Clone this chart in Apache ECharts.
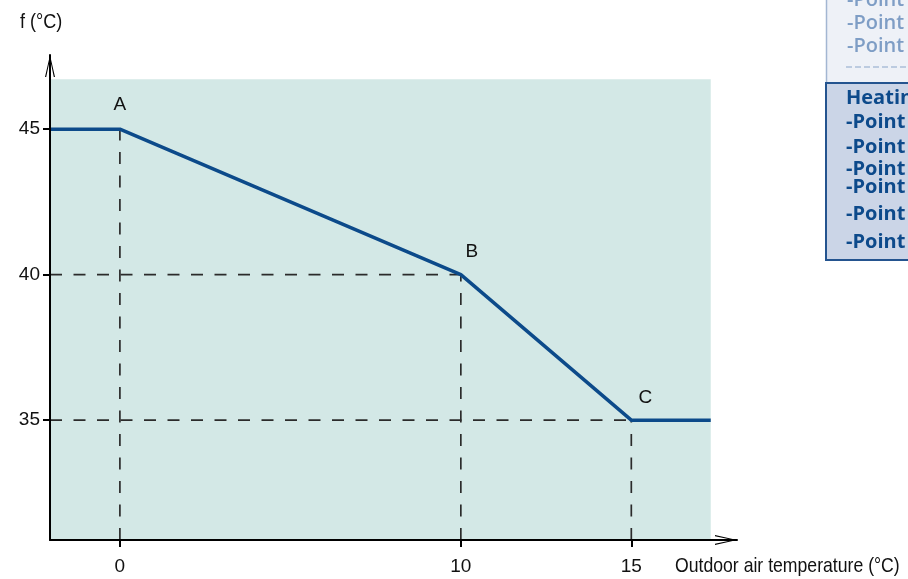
<!DOCTYPE html>
<html>
<head>
<meta charset="utf-8">
<title>Heating curve</title>
<script src="https://cdn.jsdelivr.net/npm/echarts@6/dist/echarts.min.js"></script>
<style>
  html, body { margin: 0; padding: 0; background: #ffffff; }
  #chart { width: 908px; height: 579px; }
</style>
</head>
<body>
<div id="chart"></div>
<script>
// Heating curve: flow temperature f against outdoor air temperature
const curveX = [-2.05, 0, 10, 15, 17.33];
const curveY = [45, 45, 40, 35, 35];
const pointNames = ['', 'A', 'B', 'C', ''];

// Tick positions and labels
const xTicks = [0, 10, 15];
const yTicks = [35, 40, 45];

// Axis ranges and the shaded operating area
const xRange = [-2.05, 18.1];
const yRange = [30.88, 47.55];
const areaX = [-2.05, 17.33];
const areaY = [30.88, 46.72];

// Legend panel lines
const panelFaded = ['-Point C', '-Point D', '-Point E'];
const panelTitle = 'Heating';
const panelLines = ['-Point A', '-Point B', '-Point C', '-Point D', '-Point E', '-Point F'];

const FONT = '"Liberation Sans", Arial, sans-serif';
const PANEL_FONT = '"Open Sans", "Noto Sans", sans-serif';

// open chevron arrowhead
const arrowPath = 'path://M0,0 L5,22 L3.8,22 L0,4 L-3.8,22 L-5,22 Z';

// dashed guides from each break point down to the x axis and across to the y axis
const guides = [];
[1, 2, 3].forEach(function (i) {
  guides.push([[curveX[i], yRange[0]], [curveX[i], curveY[i]]]);
  if (i > 1) guides.push([[xRange[0], curveY[i]], [curveX[i], curveY[i]]]);
});

const labelOffsets = { A: [0, 0], B: [11, 2], C: [14, 2] };

const chart = echarts.init(document.getElementById('chart'), null, { renderer: 'canvas' });

const axisCommon = {
  type: 'value',
  z: 5,
  splitLine: { show: false },
  axisLine: {
    show: true,
    onZero: false,
    lineStyle: { color: '#000', width: 2 },
    symbol: ['none', arrowPath],
    symbolSize: [10, 22],
    symbolOffset: [0, -11]
  },
  axisTick: { show: true, length: 7, lineStyle: { color: '#000', width: 2 } },
  axisLabel: { color: '#111', fontFamily: FONT, fontSize: 19 }
};

const series = [];

// shaded area behind everything
series.push({
  type: 'line',
  z: 1,
  silent: true,
  data: [],
  markArea: {
    silent: true,
    itemStyle: { color: '#d3e8e6' },
    data: [[{ coord: [areaX[0], areaY[0]] }, { coord: [areaX[1], areaY[1]] }]]
  }
});

guides.forEach(function (seg) {
  series.push({
    type: 'line',
    z: 3,
    silent: true,
    symbol: 'none',
    data: seg,
    lineStyle: { color: '#2b2b2b', width: 1.7, type: [12, 11.5] }
  });
});

series.push({
  type: 'line',
  z: 4,
  silent: true,
  symbol: 'none',
  lineStyle: { color: '#0c4a8a', width: 3.5 },
  data: curveX.map(function (x, i) {
    const name = pointNames[i];
    const item = { value: [x, curveY[i]] };
    if (name) {
      item.symbol = 'circle';
      item.symbolSize = 0.1;
      item.label = {
        show: true,
        position: 'top',
        distance: 15,
        offset: labelOffsets[name],
        formatter: name,
        color: '#111',
        fontFamily: FONT,
        fontSize: 19
      };
    }
    return item;
  })
});

// legend panel at the right edge
const panelChildren = [
  { type: 'rect', shape: { x: 826, y: 0, width: 90, height: 84 }, style: { fill: '#eef1f7' } },
  { type: 'line', shape: { x1: 826.5, y1: 0, x2: 826.5, y2: 84 }, style: { stroke: '#a3b6d2', lineWidth: 1.5 } },
  { type: 'line', shape: { x1: 846, y1: 67, x2: 910, y2: 67 }, style: { stroke: '#8aa5c9', lineWidth: 1.2, lineDash: [6, 3] } },
  { type: 'rect', shape: { x: 826, y: 83, width: 90, height: 177 }, style: { fill: '#cbd5e7', stroke: '#24548f', lineWidth: 2 } }
];
panelFaded.forEach(function (t, i) {
  panelChildren.push({
    type: 'text', x: 847, y: 0 + i * 23,
    style: { text: t, fill: '#7e9dc5', font: '600 20px ' + PANEL_FONT, textVerticalAlign: 'middle' }
  });
});
panelChildren.push({
  type: 'text', x: 846, y: 98,
  style: { text: panelTitle, fill: '#0d4a8b', font: 'bold 20px ' + PANEL_FONT, textVerticalAlign: 'middle' }
});
const panelRowsY = [122, 147, 169, 187, 214, 242];
panelLines.forEach(function (t, i) {
  panelChildren.push({
    type: 'text', x: 846, y: panelRowsY[i],
    style: { text: t, fill: '#0d4a8b', font: 'bold 20px ' + PANEL_FONT, textVerticalAlign: 'middle' }
  });
});

chart.setOption({
  animation: false,
  backgroundColor: '#ffffff',
  grid: { left: 50, top: 55, width: 687, height: 485 },
  xAxis: Object.assign({}, axisCommon, {
    min: xRange[0],
    max: xRange[1],
    axisTick: Object.assign({}, axisCommon.axisTick, { customValues: xTicks }),
    axisLabel: Object.assign({}, axisCommon.axisLabel, { customValues: xTicks, margin: 17 })
  }),
  yAxis: Object.assign({}, axisCommon, {
    min: yRange[0],
    max: yRange[1],
    axisTick: Object.assign({}, axisCommon.axisTick, { customValues: yTicks }),
    axisLabel: Object.assign({}, axisCommon.axisLabel, { customValues: yTicks, margin: 10 })
  }),
  series: series,
  graphic: [
    { type: 'text', x: 20, y: 22, scaleX: 0.86, style: { text: 'f (°C)', fill: '#111', font: '21px ' + FONT, textVerticalAlign: 'middle' } },
    { type: 'text', x: 675, y: 566, scaleX: 0.84, style: { text: 'Outdoor air temperature (°C)', fill: '#111', font: '21px ' + FONT, textVerticalAlign: 'middle' } },
    { type: 'group', children: panelChildren }
  ]
});
</script>
</body>
</html>
